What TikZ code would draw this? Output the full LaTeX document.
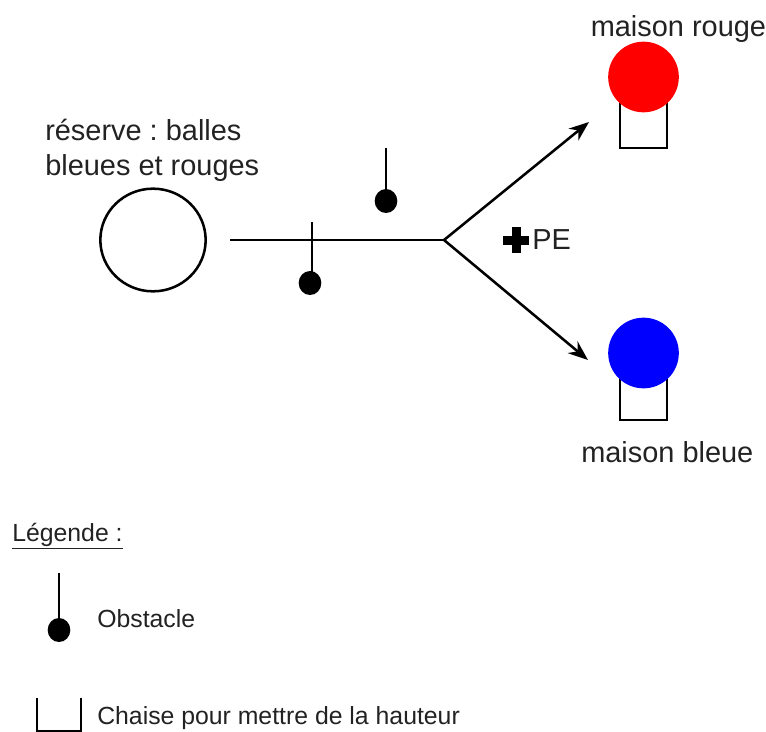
\documentclass[tikz,border=0pt]{standalone}
\usepackage{fontspec}
\setmainfont{Liberation Sans}
\usetikzlibrary{arrows.meta}
\definecolor{txt}{HTML}{222222}
\frenchspacing
\tikzset{
  line/.style={draw=black,line width=1.9pt},
  arrowline/.style={line,-{Stealth[length=15pt,width=11.5pt]}},
  lbl/.style={inner sep=0pt,anchor=base west,text=txt,font=\fontsize{21.7pt}{24pt}\selectfont},
  lgd/.style={inner sep=0pt,anchor=base west,text=txt,font=\fontsize{18.6pt}{20pt}\selectfont},
  ball/.style={ellipse,inner sep=0pt,minimum width=17pt,minimum height=18pt,fill=black},
  house/.style={circle,inner sep=0pt,minimum size=53pt},
  chairline/.style={line,line join=miter},
}
\usetikzlibrary{shapes.geometric}
\begin{document}
\begin{tikzpicture}[x=0.75pt,y=-0.75pt]
\useasboundingbox (0,0) rectangle (766,731);
% chairs (behind the houses)
\coordinate (crA) at (620,100); \coordinate (crB) at (620,148); \coordinate (crC) at (667,148); \coordinate (crD) at (667,100);
\draw[chairline] (crA) -- (crB) -- (crC) -- (crD);
\coordinate (cbA) at (620,375); \coordinate (cbB) at (620,420); \coordinate (cbC) at (667,420); \coordinate (cbD) at (667,375);
\draw[chairline] (cbA) -- (cbB) -- (cbC) -- (cbD);
% houses and reserve
\node[house,fill=red] (red) at (643.5,77) {};
\node[house,fill=blue] (blue) at (643.5,353) {};
\node[ellipse,draw=black,line width=1.9pt,inner sep=0pt,minimum width=79pt,minimum height=77pt] (res) at (153,240) {};
% paths
\coordinate (start) at (230,240);
\coordinate (fork) at (444,240);
\coordinate (tipR) at (589,122);
\coordinate (tipB) at (588,360);
\draw[line] (start) -- (fork);
\draw[arrowline] (fork) -- (tipR);
\draw[arrowline] (fork) -- (tipB);
% obstacles
\node[ball] (o1) at (386,201) {};
\coordinate (o1t) at (386,148);
\draw[line] (o1t) -- (o1);
\node[ball] (o2) at (310,283) {};
\coordinate (o2t) at (312,222);
\coordinate (o2b) at (312,275);
\draw[line] (o2t) -- (o2b);
% PE
\fill[black] (511.5,227) rectangle (520.5,253);
\fill[black] (503,235.5) rectangle (529,244.5);
\node[lbl] (pe) at (532,249) {PE};
% labels
\node[lbl] (l1) at (45,141) {réserve : balles};
\node[lbl] (l2) at (45,175) {bleues et rouges};
\node[lbl] (mr) at (590.5,37) {maison rouge};
\node[lbl] (mb) at (581,462) {maison bleue};
% legend
\node[lgd] (leg) at (12,541) {\underline{Légende :}};
\coordinate (lot) at (59,573);
\node[ball] (lo) at (59,630) {};
\draw[line] (lot) -- (lo);
\node[lgd] (lob) at (97,627) {Obstacle};
\coordinate (lcA) at (37,698); \coordinate (lcB) at (37,731); \coordinate (lcC) at (81,731); \coordinate (lcD) at (81,698);
\draw[chairline] (lcA) -- (lcB) -- (lcC) -- (lcD);
\node[lgd] (lch) at (97,724) {Chaise pour mettre de la hauteur};
\end{tikzpicture}
\end{document}
